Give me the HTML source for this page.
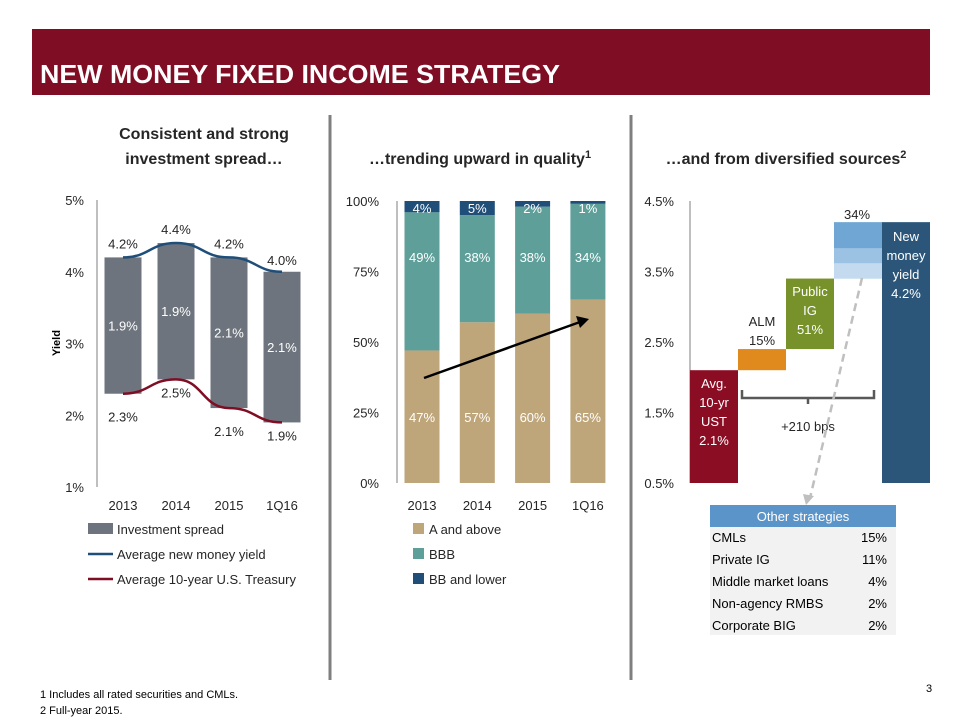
<!DOCTYPE html>
<html><head><meta charset="utf-8"><style>
body{margin:0;width:960px;height:719px;background:#fff;font-family:"Liberation Sans",sans-serif;overflow:hidden;position:relative}
svg{position:absolute;left:0;top:0}
</style></head><body>
<svg id="s" width="960" height="719">
<rect x="32" y="29" width="898" height="66" fill="#7f0d24"/>
<text x="40" y="83" fill="#fff" font-size="26" font-weight="bold" textLength="520" lengthAdjust="spacingAndGlyphs">NEW MONEY FIXED INCOME STRATEGY</text>
<line x1="330" y1="115" x2="330" y2="680" stroke="#7f7f7f" stroke-width="3"/>
<line x1="631" y1="115" x2="631" y2="680" stroke="#7f7f7f" stroke-width="3"/>
<g font-weight="bold" font-size="16" fill="#262626" text-anchor="middle">
<text x="204" y="139">Consistent and strong</text>
<text x="204" y="164">investment spread…</text>
<text x="480" y="164">…trending upward in quality<tspan font-size="11" dy="-6">1</tspan></text>
<text x="786" y="164">…and from diversified sources<tspan font-size="11" dy="-6">2</tspan></text>
</g>
<text x="40" y="698" font-size="11" fill="#000">1  Includes all rated securities and CMLs.</text>
<text x="40" y="714" font-size="11" fill="#000">2  Full-year 2015.</text>
<text x="926" y="692" font-size="11" fill="#000">3</text>
</svg>
<script>
const NS='http://www.w3.org/2000/svg';const S=document.getElementById('s');
function mk(t,a,txt){const e=document.createElementNS(NS,t);for(const k in a)e.setAttribute(k,a[k]);if(txt!==undefined)e.textContent=txt;S.appendChild(e);return e;}

// Chart 1
const years=['2013','2014','2015','1Q16'];
const newMoney=[4.2,4.4,4.2,4.0];
const treasury=[2.3,2.5,2.1,1.9];
const spreadLabels=['1.9%','1.9%','2.1%','2.1%'];
const y1Ticks=[1,2,3,4,5];
const y1=v=>487-(v-1)*71.75;const x1=i=>123+i*53;
let e=mk('line',{x1:97,y1:200,x2:97,y2:487,stroke:'#7f7f7f'});

y1Ticks.forEach(t=>{e=mk('text',{x:84,y:y1(t)+5,'text-anchor':'end','font-size':13,fill:'#262626'},t+'%');
});
e=mk('text',{x:0,y:0,transform:'translate(60,343) rotate(-90)','text-anchor':'middle','font-size':11,'font-weight':'bold'},'Yield');

years.forEach((yr,i)=>{
 e=mk('rect',{x:x1(i)-18.5,y:y1(newMoney[i]),width:37,height:y1(treasury[i])-y1(newMoney[i]),fill:'#6d747d'});
 
 e=mk('text',{x:x1(i),y:(y1(newMoney[i])+y1(treasury[i]))/2+5,'text-anchor':'middle','font-size':13,fill:'#fff'},spreadLabels[i]);
 
 e=mk('text',{x:x1(i),y:y1(newMoney[i])-(i==3?10:20)+((i%2)?-2:6)+5+(i==1?8:0),'text-anchor':'middle','font-size':13,fill:'#262626'},newMoney[i].toFixed(1)+'%');
 
 e=mk('text',{x:x1(i),y:y1(treasury[i])+(i%2?18:28),'text-anchor':'middle','font-size':13,fill:'#262626'},treasury[i].toFixed(1)+'%');
 
 e=mk('text',{x:x1(i),y:510,'text-anchor':'middle','font-size':13,fill:'#262626'},yr);
 
});
function smooth(xs,ys){let d='M'+xs[0]+','+ys[0];for(let i=1;i<xs.length;i++){const mx=(xs[i]-xs[i-1])/2;d+=' C'+(xs[i-1]+mx)+','+ys[i-1]+' '+(xs[i]-mx)+','+ys[i]+' '+xs[i]+','+ys[i];}return d;}
e=mk('path',{d:smooth(years.map((_,i)=>x1(i)),newMoney.map(y1)),fill:'none',stroke:'#1f4e79','stroke-width':2.5});

e=mk('path',{d:smooth(years.map((_,i)=>x1(i)),treasury.map(y1)),fill:'none',stroke:'#7f0d24','stroke-width':2.5});

const leg1=[['Investment spread','#6d747d','rect'],['Average new money yield','#1f4e79','line'],['Average 10-year U.S. Treasury','#7f0d24','line']];
leg1.forEach((l,i)=>{const y=529+i*25;
 if(l[2]=='rect')e=mk('rect',{x:88,y:y-6,width:25,height:11,fill:l[1]});else e=mk('line',{x1:88,y1:y,x2:113,y2:y,stroke:l[1],'stroke-width':2.5});
 
 e=mk('text',{x:117,y:y+5,'font-size':13,fill:'#262626'},l[0]);
 });

// Chart 2
const aAbove=[47,57,60,65];const bbb=[49,38,38,34];const bbLower=[4,5,2,1];
const y2Ticks=[0,25,50,75,100];
const y2=v=>483-v*2.82;const x2=i=>422+i*55.3;
e=mk('line',{x1:397,y1:201,x2:397,y2:483,stroke:'#7f7f7f'});

y2Ticks.forEach(t=>{e=mk('text',{x:379,y:y2(t)+5,'text-anchor':'end','font-size':13,fill:'#262626'},t+'%');
});
const c2=['#bfa67a','#5f9f9a','#1f4e79'];
const labelY=[422,262,213];
years.forEach((yr,i)=>{let base=0;[aAbove[i],bbb[i],bbLower[i]].forEach((v,k)=>{
 e=mk('rect',{x:x2(i)-17.5,y:y2(base+v),width:35,height:v*2.82,fill:c2[k]});
 
 e=mk('text',{x:x2(i),y:labelY[k],'text-anchor':'middle','font-size':13,fill:'#fff'},v+'%');
 
 base+=v;});
 e=mk('text',{x:x2(i),y:510,'text-anchor':'middle','font-size':13,fill:'#262626'},yr);
 });
e=mk('line',{x1:424,y1:378,x2:580,y2:322,stroke:'#000','stroke-width':2.5});

e=mk('polygon',{points:'589,319 576,316 580,328',fill:'#000'});

['A and above','BBB','BB and lower'].forEach((l,i)=>{const y=529+i*25;
 e=mk('rect',{x:413,y:y-6,width:11,height:11,fill:c2[i]});
 
 e=mk('text',{x:429,y:y+5,'font-size':13,fill:'#262626'},l);
 });

// Chart 3 waterfall
const wfStart=[0.5,2.1,2.4,3.4,0.5];const wfEnd=[2.1,2.4,3.4,4.2,4.2];
const y3Ticks=[0.5,1.5,2.5,3.5,4.5];
const y3=v=>483-(v-0.5)*70.5;const x3=i=>690+i*48;
e=mk('line',{x1:690,y1:201,x2:690,y2:483,stroke:'#7f7f7f'});

y3Ticks.forEach(t=>{e=mk('text',{x:674,y:y3(t)+5,'text-anchor':'end','font-size':13,fill:'#262626'},t.toFixed(1)+'%');
});
const c3=['#8b0d24','#e08a1e','#77922b','#6fa6d4','#2b5679'];
const names=['ust-bar','alm-bar','public-ig-bar','other-bar','new-money-bar'];
wfStart.forEach((s,i)=>{
 e=mk('rect',{x:x3(i),y:y3(wfEnd[i]),width:48,height:y3(s)-y3(wfEnd[i]),fill:c3[i]});
 });
e=mk('rect',{x:x3(3),y:y3(wfEnd[3])+26,width:48,height:y3(wfStart[3])-y3(wfEnd[3])-26,fill:'#9cc2e3'});

e=mk('rect',{x:x3(3),y:y3(wfEnd[3])+41,width:48,height:y3(wfStart[3])-y3(wfEnd[3])-41,fill:'#c3daef'});

function tl(x,y,lines,fill,bold,name){lines.forEach((l,k)=>{e=mk('text',{x:x,y:y+k*19,'text-anchor':'middle','font-size':13,fill:fill,'font-weight':bold?'bold':'normal'},l);
 });}
tl(714,388,['Avg.','10-yr','UST','2.1%'],'#fff',false,'ust-label');
tl(762,326,['ALM','15%'],'#262626',false,'alm-label');
tl(810,296,['Public','IG','51%'],'#fff',false,'public-ig-label');
tl(857,219,['34%'],'#262626',false,'other-label');
tl(906,241,['New','money','yield','4.2%'],'#fff',false,'new-money-label');
e=mk('path',{d:'M742,390 v8 h132 v-8 M808,398 v6',fill:'none',stroke:'#595959','stroke-width':2.5});

tl(808,431,['+210 bps'],'#262626',false,'spread-bracket-label');
e=mk('line',{x1:862,y1:278,x2:810,y2:498,stroke:'#bfbfbf','stroke-width':2.5,'stroke-dasharray':'8,5'});

e=mk('polygon',{points:'806,505 803,494 814,496',fill:'#bfbfbf'});

// table
const tblNames=['CMLs','Private IG','Middle market loans','Non-agency RMBS','Corporate BIG'];
const tblVals=['15%','11%','4%','2%','2%'];
e=mk('rect',{x:710,y:527,width:186,height:108,fill:'#f2f2f2'});

e=mk('rect',{x:710,y:505,width:186,height:22,fill:'#5b94c9'});

tl(803,521,['Other strategies'],'#fff',false,'table-header-text');
tblNames.forEach((n,i)=>{const y=542+i*22;
 e=mk('text',{x:712,y:y,'font-size':13,fill:'#000'},n);
 
 e=mk('text',{x:887,y:y,'font-size':13,fill:'#000','text-anchor':'end'},tblVals[i]);
 });
</script>
</body></html>
